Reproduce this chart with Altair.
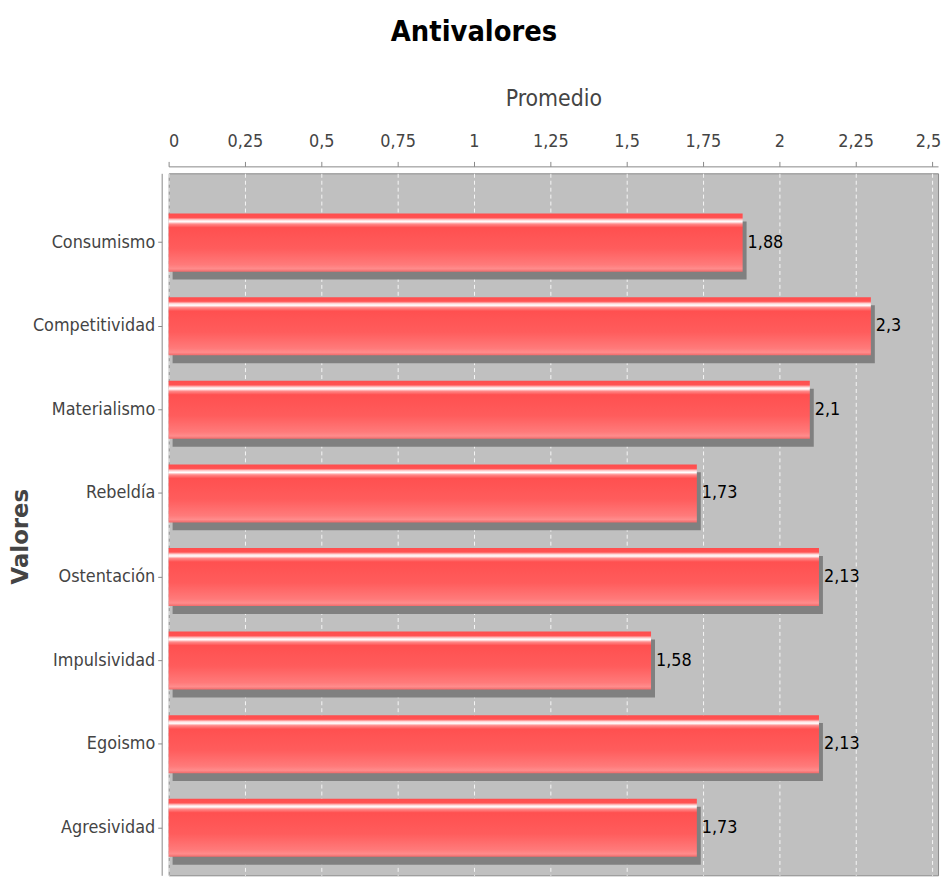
import altair as alt
import pandas as pd

categories = ["Consumismo", "Competitividad", "Materialismo", "Rebeldía",
              "Ostentación", "Impulsividad", "Egoismo", "Agresividad"]
values = [1.88, 2.3, 2.1, 1.73, 2.13, 1.58, 2.13, 1.73]
tick_values = [0, 0.25, 0.5, 0.75, 1, 1.25, 1.5, 1.75, 2, 2.25, 2.5]

df = pd.DataFrame({"cat": categories, "val": values})

FONT = "'Liberation Sans Narrow', 'DejaVu Sans Condensed', 'Liberation Sans', sans-serif"

x_enc = alt.X(
    "val:Q",
    scale=alt.Scale(domain=[0, 2.52], nice=False, zero=True),
    axis=alt.Axis(
        orient="top", values=tick_values,
        labelExpr="replace(toString(datum.value), '.', ',')",
        labelOffset={"condition": {"test": "datum.value == 2.5", "value": -4}, "value": 0},
        title="Promedio", offset=7, grid=True,
        gridColor="#ffffff", gridDash=[4, 3], gridOpacity=0.85, gridWidth=1,
        domainColor="#888888", tickColor="#888888", tickSize=5,
        labelColor="#444444", labelFont=FONT, labelFontSize=18, labelPadding=11,
        titleFont=FONT, titleFontSize=23, titleFontWeight="normal",
        titleColor="#444444", titlePadding=22,
    ),
)
y_enc = alt.Y(
    "cat:N", sort=categories,
    scale=alt.Scale(paddingInner=0.306, paddingOuter=0.352, align=0.685),
    axis=alt.Axis(
        title="Valores", offset=7, grid=False,
        domainColor="#888888", tickColor="#888888", tickSize=4,
        labelColor="#444444", labelFont=FONT, labelFontSize=18, labelPadding=3,
        titleFont="DejaVu Sans", titleFontSize=23, titleFontWeight="bold",
        titleColor="#444444", titleX=-130, titleY=366,
    ),
)

grad = alt.Gradient(
    gradient="linear", x1=0, x2=0, y1=0, y2=1,
    stops=[
        alt.GradientStop(offset=0.0, color="#ff4d4d"),
        alt.GradientStop(offset=0.07, color="#ff5252"),
        alt.GradientStop(offset=0.11, color="#ffd8d8"),
        alt.GradientStop(offset=0.14, color="#ffffff"),
        alt.GradientStop(offset=0.18, color="#ff8a8a"),
        alt.GradientStop(offset=0.24, color="#ff5050"),
        alt.GradientStop(offset=0.60, color="#ff5c5c"),
        alt.GradientStop(offset=0.88, color="#ff7a7a"),
        alt.GradientStop(offset=0.95, color="#ff8c8c"),
        alt.GradientStop(offset=1.0, color="#f06a6a"),
    ],
)

base = alt.Chart(df)
shadow = base.mark_bar(color="#808080", xOffset=4, yOffset=8).encode(x=x_enc, y=y_enc)
bars = base.mark_bar(color=grad).encode(x=x_enc, y=y_enc)
labels = base.transform_calculate(
    lab="replace(toString(datum.val), '.', ',')"
).mark_text(
    align="left", baseline="middle", dx=5, font=FONT, fontSize=18, color="#000000"
).encode(x=x_enc, y=y_enc, text="lab:N")

chart = alt.layer(shadow, bars, labels).properties(
    width=776, height=708,
    title=alt.Title("Antivalores", font=FONT, fontSize=29, fontWeight="bold",
                    color="#000000", anchor="middle", dx=-80, offset=41),
    autosize=alt.AutoSizeParams(type="none"),
    padding={"left": 162, "top": 163, "right": 5, "bottom": 0},
).configure_view(fill="#c0c0c0", stroke="#8a8a8a", strokeWidth=1)

chart.save("out.html", embed_options={"renderer": "svg", "actions": False})
